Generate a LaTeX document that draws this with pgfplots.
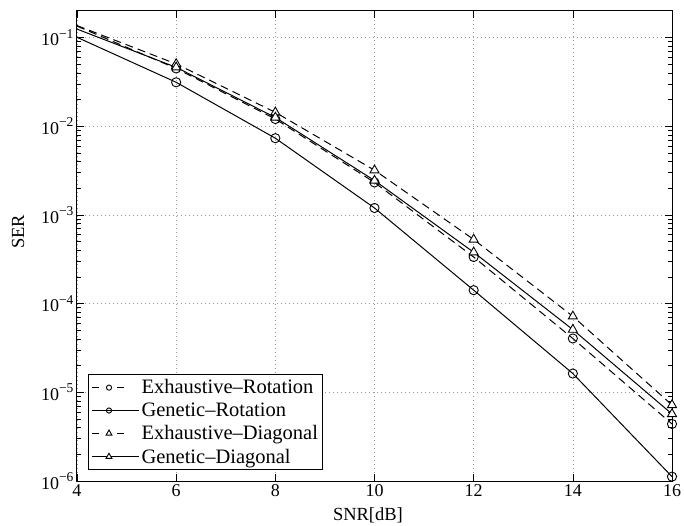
\documentclass[border=0pt]{standalone}
\usepackage{fontspec}
\setmainfont{Liberation Serif}
\usepackage{pgfplots}
\pgfplotsset{compat=1.18}
\newcommand{\ep}[1]{10\raisebox{0.42em}{\fontsize{13.5}{13.5}\selectfont #1}}
\begin{document}
\begin{tikzpicture}
\useasboundingbox (-77pt,-45pt) rectangle (607pt,481pt);
\begin{semilogyaxis}[
    at={(0pt,0pt)}, anchor=south west,
    scale only axis, width=595pt, height=470pt,
    xmin=4, xmax=16, ymin=1e-6, ymax=0.2,
    xtick={4,6,8,10,12,14,16},
    xticklabels={4,6,8,10,12,14,16},
    ytick={1e-6,1e-5,1e-4,1e-3,1e-2,1e-1},
    yticklabels={\ep{−6},\ep{−5},\ep{−4},\ep{−3},\ep{−2},\ep{−1}},
    tick label style={font=\fontsize{18}{18}\selectfont},
    major tick length=7pt, minor tick length=4pt,
    tick style={black, line width=0.6pt},
    axis line style={line width=1pt},
    grid=major,
    grid style={gray!80, line width=0.6pt, dash pattern=on 1pt off 3pt},
    xlabel={SNR[dB]}, ylabel={SER},
    label style={font=\fontsize{18.5}{18.5}\selectfont},
    xlabel style={at={(axis description cs:0.489,-0.057)}, anchor=north, inner sep=0pt},
    ylabel style={at={(axis description cs:-0.099,0.53)}, anchor=center, inner sep=0pt},
    legend style={at={(0.0185,0.0234)}, anchor=south west, draw=black, line width=1pt,
                  font=\fontsize{20.5}{20.5}\selectfont, cells={anchor=west},
                  row sep=3.5pt, inner sep=3pt},
    legend image code/.code={
        \path (0pt,0pt) -- (47pt,0pt);
        \draw[#1, mark repeat=2, mark phase=2, mark indices={2}]
        plot coordinates {(2pt,0pt) (17pt,0pt) (32pt,0pt)};},
    every axis plot/.append style={black, line width=1pt, mark indices={2,3,4,5,6,7},
                                   mark options={fill=white, solid, line width=0.9pt}},
]
\addplot[dash pattern=on 8pt off 5pt, mark=o, mark size=4.6pt,
         legend image post style={mark size=2.6pt, dash pattern=on 5pt off 20pt}]
  coordinates {(4,0.135) (6,0.045) (8,0.0121) (10,0.00233) (12,3.36e-4) (14,4.05e-5) (16,4.4e-6)};
\addlegendentry{Exhaustive–Rotation}
\addplot[mark=o, mark size=4.6pt, legend image post style={mark size=2.6pt}]
  coordinates {(4,0.101) (6,0.0314) (8,0.00735) (10,0.0012) (12,1.42e-4) (14,1.63e-5) (16,1.12e-6)};
\addlegendentry{Genetic–Rotation}
\addplot[dash pattern=on 8pt off 5pt, mark=triangle*, mark size=5.2pt,
         legend image post style={mark size=3.4pt, dash pattern=on 5pt off 20pt}]
  coordinates {(4,0.137) (6,0.0506) (8,0.0144) (10,0.0032) (12,5.3e-4) (14,7.2e-5) (16,7.2e-6)};
\addlegendentry{Exhaustive–Diagonal}
\addplot[mark=triangle*, mark size=5.2pt, legend image post style={mark size=3.4pt}]
  coordinates {(4,0.125) (6,0.0463) (8,0.0126) (10,0.00245) (12,3.8e-4) (14,5.1e-5) (16,5.7e-6)};
\addlegendentry{Genetic–Diagonal}
\end{semilogyaxis}
\end{tikzpicture}
\end{document}
